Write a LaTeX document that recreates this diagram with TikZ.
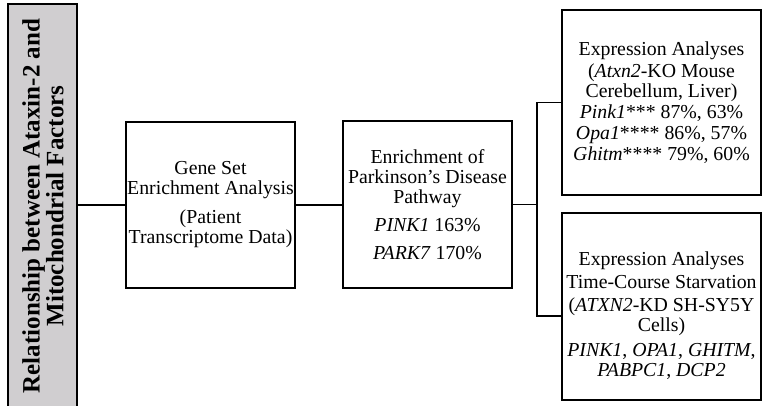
\documentclass[tikz,border=0pt]{standalone}
\usepackage{fontspec}
\setmainfont{Liberation Serif}
\usepackage{xcolor}
\usepackage{tikz}

\definecolor{titlegray}{RGB}{208,206,208}

\begin{document}
\begin{tikzpicture}[x=1pt,y=-1pt,
        box/.style = {draw, line width=2.2pt, align=center, inner sep=0pt,
                      font=\fontsize{19.8}{20}\selectfont},
        link/.style = {line width=1.9pt}
        ]
    \useasboundingbox (0,0) rectangle (763,405);

    \node[box, fill=titlegray, minimum width=69, minimum height=430] (title) at (42.5,219) {};
    \node[rotate=90, align=center, font=\fontsize{25}{21}\selectfont\bfseries] (titletext) at (43,206)
        {Relationship between Ataxin-2 and\\Mitochondrial Factors}; %label

    \node[box, minimum width=169, minimum height=166] (gsea) at (210.5,205)
        {Gene Set\\Enrichment Analysis\\[9pt](Patient\\Transcriptome Data)};
    \node[box, minimum width=169, minimum height=167] (pdpath) at (427.5,204.5)
        {Enrichment of\\Parkinson's Disease\\Pathway\\[8pt]\textit{PINK1} 163\%\\[8pt]\textit{PARK7} 170\%};

    \node[box, minimum width=199, minimum height=185] (expr) at (661.5,102.5)
        {Expression Analyses\\[2pt](\textit{Atxn2}-KO Mouse\\Cerebellum, Liver)\\[1pt]\textit{Pink1}*** 87\%, 63\%\\[1pt]\textit{Opa1}**** 86\%, 57\%\\[1pt]\textit{Ghitm}**** 79\%, 60\%};
    \node[box, minimum width=199, minimum height=187] (starvbox) at (661.5,306.5) {};
    \node[align=center, inner sep=0pt, font=\fontsize{19.8}{20}\selectfont] (starv) at (661.5,316)
        {Expression Analyses\\[3pt]Time-Course Starvation\\[3pt](\textit{ATXN2}-KD SH-SY5Y\\Cells)\\[5pt]\textit{PINK1}, \textit{OPA1}, \textit{GHITM},\\\textit{PABPC1}, \textit{DCP2}};

    \coordinate (fork) at (537,204.5);

    \draw[link] (title.east |- gsea.west) -- (gsea.west);
    \draw[link] (gsea.east) -- (gsea.east -| pdpath.west);
    \draw[link] (pdpath.east) -- (fork);
    \draw[link] (expr.west) -| (fork) |- (starv -| starvbox.west);
\end{tikzpicture}
\end{document}
